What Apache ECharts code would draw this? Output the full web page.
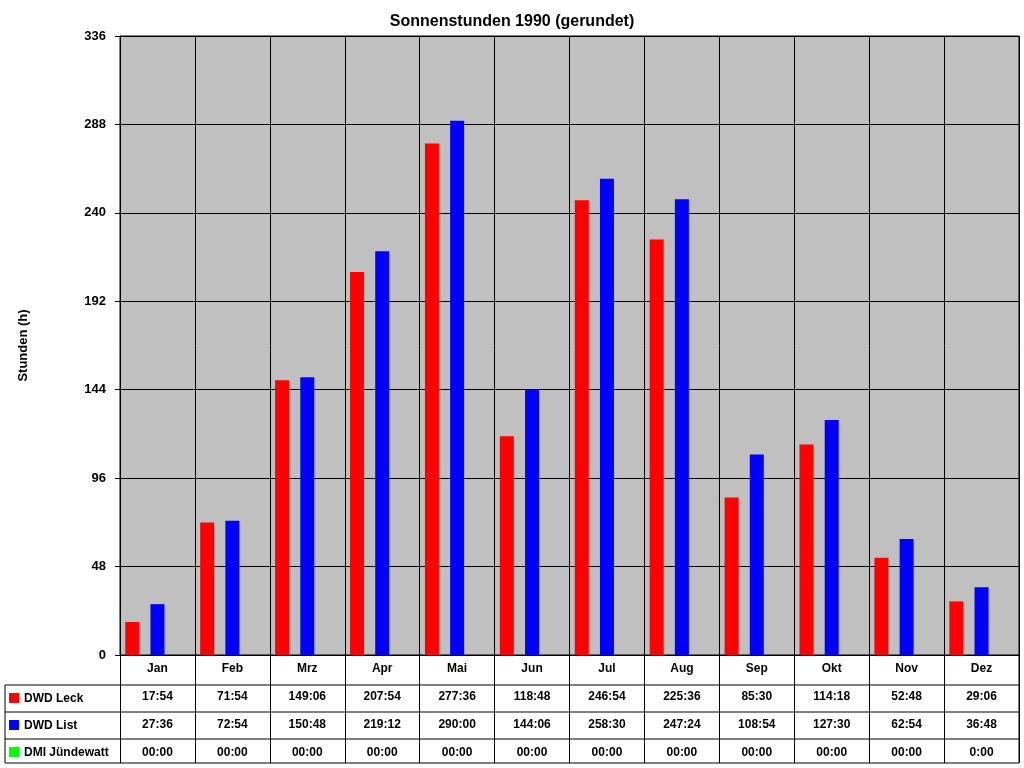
<!DOCTYPE html>
<html><head><meta charset="utf-8">
<script src="https://cdn.jsdelivr.net/npm/echarts@6/dist/echarts.min.js"></script>
<style>html,body{margin:0;padding:0;background:#fff}#c{width:1024px;height:768px}</style>
</head><body><div id="c"></div>
<script>
const categories=['Jan','Feb','Mrz','Apr','Mai','Jun','Jul','Aug','Sep','Okt','Nov','Dez'];
const leck=['17:54','71:54','149:06','207:54','277:36','118:48','246:54','225:36','85:30','114:18','52:48','29:06'];
const list=['27:36','72:54','150:48','219:12','290:00','144:06','258:30','247:24','108:54','127:30','62:54','36:48'];
const dmi=['00:00','00:00','00:00','00:00','00:00','00:00','00:00','00:00','00:00','00:00','00:00','0:00'];
const seriesNames=['DWD Leck','DWD List','DMI Jündewatt'];
const colors=['#ff0000','#0000ff','#00ff00'];
const toH=s=>{const p=s.split(':');return +p[0]+ +p[1]/60;};
const F='Liberation Sans, Arial, sans-serif';
const chart=echarts.init(document.getElementById('c'));
const rowsY=[685,712,739,763];
const graphic=[];
rowsY.forEach(y=>graphic.push({type:'line',shape:{x1:5,y1:y,x2:1019,y2:y},style:{stroke:'#000',lineWidth:1}}));
graphic.push({type:'line',shape:{x1:5,y1:685,x2:5,y2:763},style:{stroke:'#000'}});
graphic.push({type:'line',shape:{x1:1019,y1:655,x2:1019,y2:763},style:{stroke:'#000'}});
seriesNames.forEach((n,i)=>{
  const y=rowsY[i];
  graphic.push({type:'rect',shape:{x:9,y:y+8,width:10,height:10},style:{fill:colors[i]}});
  graphic.push({type:'text',x:24,y:y+13.5,style:{text:n,font:'bold 12px '+F,fill:'#000',verticalAlign:'middle'}});
});
chart.setOption({
  animation:false,
  title:{text:'Sonnenstunden 1990 (gerundet)',left:'center',top:9,textStyle:{fontFamily:F,fontSize:16,fontWeight:'bold',color:'#000'}},
  grid:{left:120,right:5,top:36,bottom:113,show:true,backgroundColor:'#c0c0c0',borderColor:'#000',borderWidth:1},
  xAxis:{type:'category',data:categories,
    axisLine:{lineStyle:{color:'#000'}},
    axisTick:{show:true,length:108,lineStyle:{color:'#000'}},
    splitLine:{show:true,lineStyle:{color:'#000'}},
    axisLabel:{margin:0,lineHeight:28,fontFamily:F,fontSize:12,fontWeight:'bold',color:'#000',verticalAlign:'top',
      formatter:(v,i)=>[v,leck[i],list[i],dmi[i]].join('\n')}},
  yAxis:{type:'value',min:0,max:336,interval:48,name:'Stunden (h)',nameLocation:'middle',nameGap:90,
    nameTextStyle:{fontFamily:F,fontSize:13,fontWeight:'bold',color:'#000'},
    axisLine:{show:true,lineStyle:{color:'#000'}},axisTick:{show:true,lineStyle:{color:'#000'}},
    splitLine:{lineStyle:{color:'#000'}},
    axisLabel:{fontFamily:F,fontSize:13,fontWeight:'bold',color:'#000',margin:14}},
  series:[leck,list,dmi].map((d,i)=>({type:'bar',name:seriesNames[i],data:d.map(toH),barWidth:14,barGap:'80%',barCategoryGap:'15%',itemStyle:{color:colors[i]}})),
  graphic:graphic
});
</script></body></html>
